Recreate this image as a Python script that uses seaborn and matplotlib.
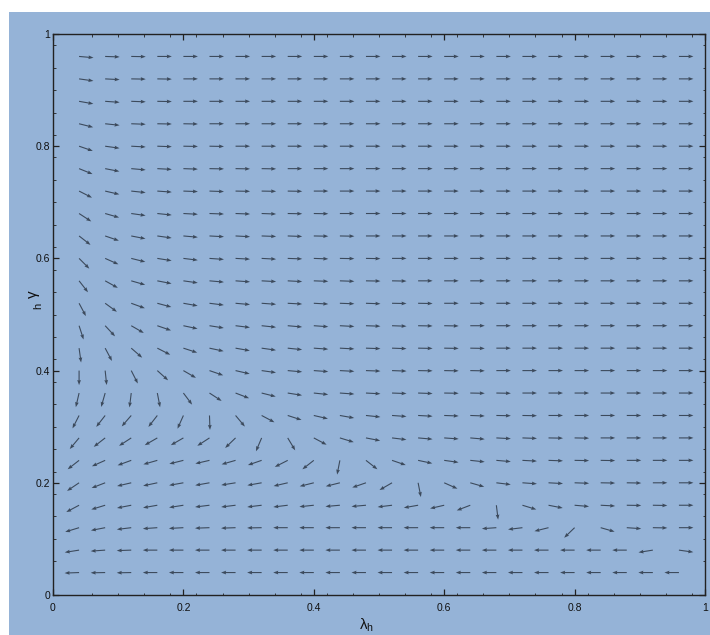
import numpy as np
import matplotlib
matplotlib.use("Agg")
import matplotlib.pyplot as plt
from matplotlib.patches import Rectangle
import seaborn as sns

# grid of arrow tails
x_grid = [0.04, 0.08, 0.12, 0.16, 0.20, 0.24, 0.28, 0.32, 0.36, 0.40, 0.44, 0.48,
          0.52, 0.56, 0.60, 0.64, 0.68, 0.72, 0.76, 0.80, 0.84, 0.88, 0.92, 0.96]
y_grid = [0.04, 0.08, 0.12, 0.16, 0.20, 0.24, 0.28, 0.32, 0.36, 0.40, 0.44, 0.48,
          0.52, 0.56, 0.60, 0.64, 0.68, 0.72, 0.76, 0.80, 0.84, 0.88, 0.92, 0.96]

# arrow direction (degrees, screen) per row
ang_004 = [-178, -179, -179, 180, 180, 180, 180, 180, 180, 180, 180, 180,
           180, 180, 180, 180, 180, 180, 180, 180, 180, 180, 180, 180]
ang_008 = [-171, -176, -178, 180, 180, 180, 180, 180, 180, 180, 180, 180,
           180, 180, 180, 180, 180, 180, 180, 180, 180, 180, -171, -8]
ang_012 = [-163, -169, -173, -176, -177, -178, -178, -179, 180, 180, 180, 180,
           180, 180, 180, 180, -176, -173, -166, -136, -16, -4, -1, 0]
ang_016 = [-152, -163, -169, -170, -171, -173, -173, -173, -173, -174, -175, -175,
           -173, -170, -167, -159, -83, -17, -11, -5, -3, -1, -1, 0]
ang_020 = [-146, -159, -167, -168, -170, -170, -171, -170, -167, -166, -166, -161,
           -150, -79, -24, -16, -7, -4, -3, -2, -1, -1, 0, 0]
ang_024 = [-142, -156, -160, -164, -166, -167, -164, -161, -153, -142, -101, -38,
           -19, -12, -8, -6, -5, -3, -2, -1, -1, 0, 0, 0]
ang_028 = [-130, -142, -147, -150, -150, -147, -136, -113, -59, -28, -17, -11,
           -7, -5, -4, -5, -3, -2, -1, -1, 0, 0, 0, 0]
ang_032 = [-117, -128, -131, -128, -114, -88, -50, -28, -18, -13, -10, -6,
           -4, -3, -2, -2, -1, -1, 0, 0, 0, 0, 0, 0]
ang_036 = [-103, -106, -97, -79, -53, -33, -21, -14, -9, -6, -4, -3,
           -2, -2, -1, -1, -1, 0, 0, 0, 0, 0, 0, 0]
ang_040 = [-90, -84, -63, -42, -30, -19, -13, -8, -5, -4, -3, -2,
           -2, -1, -1, -1, 0, 0, 0, 0, 0, 0, 0, 0]
ang_044 = [-82, -62, -41, -27, -18, -12, -10, -8, -6, -4, -3, -2,
           -2, -1, -1, -1, 0, 0, 0, 0, 0, 0, 0, 0]
ang_048 = [-72, -47, -30, -19, -12, -9, -7, -6, -5, -4, -3, -2,
           -2, -1, -1, 0, 0, 0, 0, 0, 0, 0, 0, 0]
ang_052 = [-62, -36, -20, -15, -10, -7, -5, -4, -3, -3, -2, -2,
           -1, -1, 0, 0, 0, 0, 0, 0, 0, 0, 0, 0]
ang_056 = [-52, -29, -16, -11, -8, -5, -4, -3, -3, -2, -2, -1,
           -1, 0, 0, 0, 0, 0, 0, 0, 0, 0, 0, 0]
ang_060 = [-45, -24, -14, -9, -7, -4, -3, -3, -2, -2, -1, -1,
           0, 0, 0, 0, 0, 0, 0, 0, 0, 0, 0, 0]
ang_064 = [-38, -19, -11, -8, -5, -3, -3, -2, -2, -1, -1, 0,
           0, 0, 0, 0, 0, 0, 0, 0, 0, 0, 0, 0]
ang_068 = [-33, -16, -8, -6, -3, -2, -2, -2, -1, -1, 0, 0,
           0, 0, 0, 0, 0, 0, 0, 0, 0, 0, 0, 0]
ang_072 = [-27, -13, -6, -4, -2, -2, -1, -1, -1, 0, 0, 0,
           0, 0, 0, 0, 0, 0, 0, 0, 0, 0, 0, 0]
ang_076 = [-22, -11, -5, -3, -2, -1, -1, -1, 0, 0, 0, 0,
           0, 0, 0, 0, 0, 0, 0, 0, 0, 0, 0, 0]
ang_080 = [-19, -8, -3, -2, -1, -1, 0, 0, 0, 0, 0, 0,
           0, 0, 0, 0, 0, 0, 0, 0, 0, 0, 0, 0]
ang_084 = [-14, -6, -2, -1, -1, 0, 0, 0, 0, 0, 0, 0,
           0, 0, 0, 0, 0, 0, 0, 0, 0, 0, 0, 0]
ang_088 = [-10, -4, -2, -1, 0, 0, 0, 0, 0, 0, 0, 0,
           0, 0, 0, 0, 0, 0, 0, 0, 0, 0, 0, 0]
ang_092 = [-8, -3, -1, -1, 0, 0, 0, 0, 0, 0, 0, 0,
           0, 0, 0, 0, 0, 0, 0, 0, 0, 0, 0, 0]
ang_096 = [-5, -2, -1, 0, 0, 0, 0, 0, 0, 0, 0, 0,
           0, 0, 0, 0, 0, 0, 0, 0, 0, 0, 0, 0]

tick_vals = [0, 0.2, 0.4, 0.6, 0.8, 1]
tick_labels = ["0", "0.2", "0.4", "0.6", "0.8", "1"]
x_label = r"$\lambda_h$"
y_label_main = "γ"
y_label_sub = "h"

BG = "#95B3D7"
ARROW = "#3C4A5C"

sns.set_style("ticks")
plt.rcParams["font.family"] = ["Liberation Sans", "DejaVu Sans"]
plt.rcParams["mathtext.fontset"] = "custom"
plt.rcParams["mathtext.rm"] = "Liberation Sans"
plt.rcParams["mathtext.it"] = "Liberation Sans"
plt.rcParams["mathtext.bf"] = "Liberation Sans:bold"

rows = [ang_004, ang_008, ang_012, ang_016, ang_020, ang_024, ang_028, ang_032,
        ang_036, ang_040, ang_044, ang_048, ang_052, ang_056, ang_060, ang_064,
        ang_068, ang_072, ang_076, ang_080, ang_084, ang_088, ang_092, ang_096]
A = np.array(rows, dtype=float)
X, Y = np.meshgrid(x_grid, y_grid)

W, H = 710, 635
fig = plt.figure(figsize=(W / 100, H / 100), dpi=100, facecolor="white")
fig.patches.append(Rectangle((9 / W, 0), 1 - 9 / W, 623 / H, transform=fig.transFigure,
                             facecolor=BG, edgecolor="none", zorder=-10))
ax = fig.add_axes([53 / W, 40 / H, 652 / W, 561 / H])
ax.set_facecolor(BG)

ax.quiver(X.ravel(), Y.ravel(), np.ones(A.size), np.zeros(A.size), angles=A.ravel(),
          pivot="tail", scale_units="dots", scale=1 / 14.5, units="dots",
          width=1.1, headwidth=3.4, headlength=4.6, headaxislength=4.2,
          color=ARROW)

ax.set_xlim(0, 1)
ax.set_ylim(0, 1)
ax.set_xticks(tick_vals)
ax.set_xticklabels(tick_labels)
ax.set_yticks(tick_vals)
ax.set_yticklabels(tick_labels)
minor = [0.06, 0.10, 0.14, 0.18, 0.22, 0.26, 0.30, 0.34, 0.38, 0.42, 0.46, 0.50,
         0.54, 0.58, 0.62, 0.66, 0.70, 0.74, 0.78, 0.82, 0.86, 0.90, 0.94, 0.98]
ax.set_xticks(minor, minor=True)
ax.set_yticks(minor, minor=True)
ax.tick_params(which="both", direction="in", top=True, right=True, colors="#222222",
               labelcolor="#111111", labelsize=7.5)
ax.tick_params(which="major", length=4.5, width=0.9)
ax.tick_params(which="minor", length=1.8, width=0.6)
ax.tick_params(axis="x", which="major", pad=6)
ax.tick_params(axis="y", which="major", pad=2)
for s in ax.spines.values():
    s.set_visible(True)
    s.set_color("#222222")
    s.set_linewidth(1.0)

# y label: rotated gamma with its subscript drawn just below it (as in the reference)
fig.text(33 / W, 1 - 294 / H, y_label_main, rotation=90, fontsize=11, ha="center",
         va="center", color="#111111")
fig.text(38 / W, 1 - 306 / H, y_label_sub, rotation=90, fontsize=8, ha="center",
         va="center", color="#111111")
fig.text(366 / W, 1 / H, x_label, fontsize=11, ha="center", va="bottom", color="#111111")

fig.savefig("out.png", dpi=100, facecolor=fig.get_facecolor())
